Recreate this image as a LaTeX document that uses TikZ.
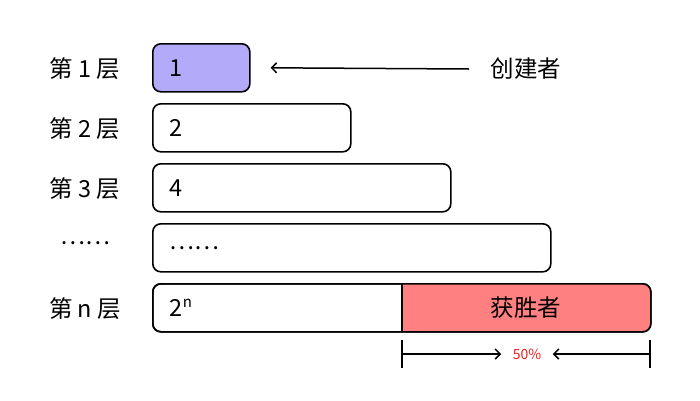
\documentclass[tikz,border=0pt]{standalone}
\usepackage{fontspec}
\setmainfont{Noto Sans CJK SC}
\usetikzlibrary{arrows.meta,positioning}
\definecolor{creator}{RGB}{179,170,250}
\definecolor{winner}{RGB}{255,128,128}
\definecolor{pct}{RGB}{240,30,30}
\begin{document}
\begin{tikzpicture}[x=1pt,y=-1pt,
  box/.style={draw=black, line width=1.6pt, rounded corners=8pt, minimum height=48pt,
    inner xsep=17pt, align=left, anchor=north west, font=\fontsize{23.5}{25}\selectfont},
  lbl/.style={font=\fontsize{23.5}{25}\selectfont},
  arr/.style={line width=1.5pt, -{Straight Barb[length=5pt,width=10pt]}},
  bar/.style={line width=1.5pt}]
\useasboundingbox (0,0) rectangle (700,400);
% boxes
\node[box, fill=creator, text width=63pt] (b1) at (152,43) {1};
\node[box, text width=164pt] (b2) at (152,103) {2};
\node[box, text width=264pt] (b3) at (152,163) {4};
\node[box, text width=364pt] (b4) at (152,223) {……};
\node[box, text width=464pt] (b5) at (152,283) {};
\node[draw=none, fill=winner, rounded corners=8pt, minimum width=248pt, minimum height=48pt,
  anchor=north west, inner sep=0pt, font=\fontsize{23.5}{25}\selectfont] (b5r) at (402,283) {获胜者};
\fill[winner] (b5r.north west) rectangle ([xshift=12pt]b5r.south west);
\node[box, text width=216pt, draw=none, fill=none] (b5l) at (152,283) {2\raisebox{9pt}{\fontsize{15}{16}\selectfont n}};
\node[box, text width=464pt, fill=none] at (152,283) {};
\draw[line width=1.6pt] (b5r.north west) -- (b5r.south west);
% labels
\node[lbl] (l1) at (85,69) {第 1 层};
\node[lbl] (l2) at (85,129) {第 2 层};
\node[lbl] (l3) at (85,189) {第 3 层};
\node[lbl] (l4) at (85,243) {……};
\node[lbl] (l5) at (85,309) {第 n 层};
\node[lbl] (cr) at (526,69) {创建者};
\draw[arr] (cr.west) ++(-18pt,0) coordinate (cs) (cs) -- ([xshift=20pt]b1.east);
% 50% measure
\coordinate (ml) at (402,354);
\coordinate (mr) at (650,354);
\draw[bar] (402,340) -- (402,368);
\draw[bar] (650,340) -- (650,368);
\node[font=\fontsize{14}{16}\selectfont, text=pct] (p) at (527,354) {50\%};
\draw[arr] (ml) -- ([xshift=-8pt]p.west);
\draw[arr] (mr) -- ([xshift=8pt]p.east);
\end{tikzpicture}
\end{document}
